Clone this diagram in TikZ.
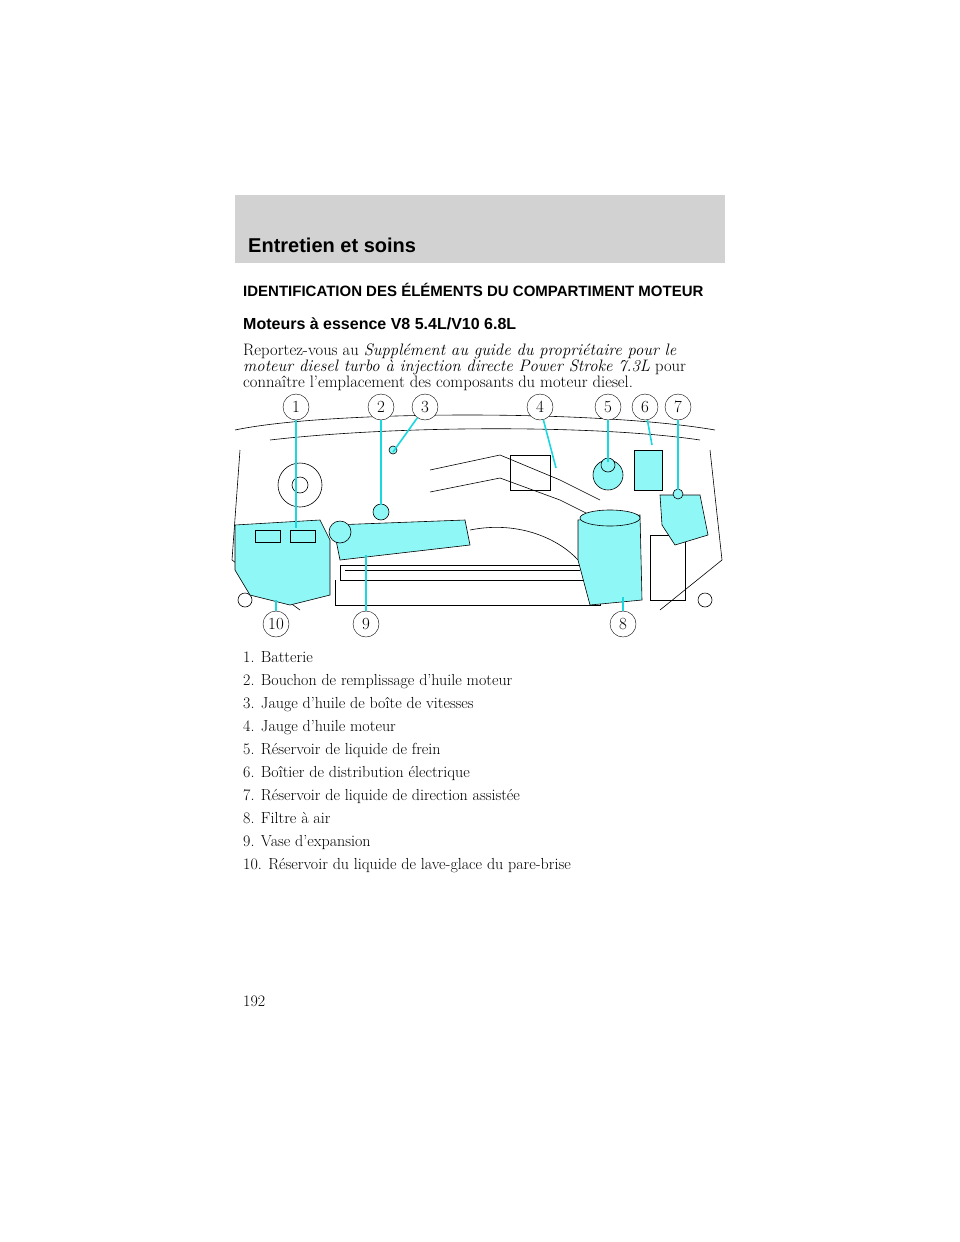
\documentclass[tikz,border=0pt]{standalone}
\usepackage{fontspec}
\setsansfont{Liberation Sans}
\usetikzlibrary{positioning}
\definecolor{partcyan}{HTML}{8FF7F5}
\definecolor{leadcyan}{HTML}{19D8E0}
\definecolor{headgray}{HTML}{D2D2D2}
\tikzset{
    txt/.style = {anchor=base west, inner sep=0pt, font=\fontsize{16}{18}\selectfont},
    callout/.style = {draw, circle, thin, minimum size=26pt, inner sep=0pt, fill=white,
        font=\fontsize{17}{18}\selectfont},
    leader/.style = {draw=leadcyan, line width=1.6pt},
    part/.style = {draw, fill=partcyan, line width=0.6pt},
    eng/.style = {draw, line width=0.6pt}
}
\begin{document}
\begin{tikzpicture}[x=1pt,y=-1pt]
    \useasboundingbox (0,0) rectangle (960,1242);
    % header
    \fill[headgray] (235,195) rectangle (725,263);
    \node[txt, font=\sffamily\bfseries\fontsize{20}{22}\selectfont] (head) at (248,252) {Entretien et soins};
    \node[txt, font=\sffamily\bfseries\fontsize{15}{17}\selectfont] (title) at (243,296) {IDENTIFICATION DES ÉLÉMENTS DU COMPARTIMENT MOTEUR};
    \node[txt, font=\sffamily\bfseries\fontsize{16}{18}\selectfont] (sub) at (243,329) {Moteurs à essence V8 5.4L/V10 6.8L};
    \node[txt, font=\fontsize{16.6}{18}\selectfont] (p1) at (243,355) {Reportez-vous au \textit{Supplément au guide du propriétaire pour le}};
    \node[txt, font=\fontsize{16.6}{18}\selectfont] (p2) at (243,371) {\textit{moteur diesel turbo à injection directe Power Stroke 7.3L} pour};
    \node[txt, font=\fontsize{16.6}{18}\selectfont] (p3) at (243,387) {connaître l’emplacement des composants du moteur diesel.};
    % engine outline
    \draw[eng] (235,430) .. controls (330,410) and (600,410) .. (715,430);
    \draw[eng] (270,440) .. controls (400,425) and (600,425) .. (700,440);
    \draw[eng] (240,450) -- (232,560);
    \draw[eng] (710,450) -- (722,560);
    \draw[eng] (232,560) -- (300,610);
    \draw[eng] (722,560) -- (660,610);
    \draw[eng] (300,485) circle (22pt);
    \draw[eng] (300,485) circle (8pt);
    \draw[eng] (430,470) -- (500,455) -- (560,480) -- (600,500);
    \draw[eng] (430,492) -- (500,478) -- (560,500) -- (590,515);
    \draw[eng] (510,455) rectangle (550,490);
    \draw[eng] (340,565) rectangle (585,580);
    \draw[eng] (345,570) -- (580,570);
    \draw[eng] (335,580) -- (335,605) -- (600,605) -- (600,580);
    \draw[eng] (470,530) .. controls (520,520) and (560,540) .. (578,560);
    \draw[eng] (650,535) rectangle (685,600);
    \draw[eng] (245,600) circle (7pt);
    \draw[eng] (705,600) circle (7pt);
    % parts
    \draw[part] (235,525) -- (320,520) -- (330,540) -- (330,595) -- (290,605) -- (250,595) -- (235,570) -- cycle;
    \draw[part] (255,530) rectangle (280,542);
    \draw[part] (290,530) rectangle (315,542);
    \draw[part] (333,525) -- (465,520) -- (470,545) -- (340,560) -- cycle;
    \draw[part] (381,512) circle (8pt);
    \draw[part] (340,532) circle (11pt);
    \draw[part] (393,450) circle (4pt);
    \draw[part] (578,520) -- (640,515) -- (642,600) -- (590,605) -- (578,560) -- cycle;
    \draw[part] (610,518) ellipse (30pt and 8pt);
    \draw[part] (608,475) circle (15pt);
    \draw[part] (608,465) circle (7pt);
    \draw[part] (634,450) rectangle (662,490);
    \draw[part] (660,495) -- (700,495) -- (708,535) -- (675,545) -- (662,525) -- cycle;
    \draw[part] (678,494) circle (5pt);
    % callouts
    \foreach \n/\x in {1/296, 2/381, 3/425, 4/540, 5/608, 6/645, 7/678}
        \node[callout] (c\n) at (\x,407) {\n};
    \draw[leader] (c1) -- (296,528);
    \draw[leader] (c2) -- (381,505);
    \draw[leader] (c3) -- (393,452);
    \draw[leader] (c4) -- (556,468);
    \draw[leader] (c5) -- (608,462);
    \draw[leader] (c6) -- (652,445);
    \draw[leader] (c7) -- (678,490);
    \node[callout] (c10) at (276,624) {10};
    \node[callout] (c9) at (366,624) {9};
    \node[callout] (c8) at (623,624) {8};
    \draw[leader] (c10) -- (276,600);
    \draw[leader] (c9) -- (366,555);
    \draw[leader] (c8) -- (623,597);
    % list
    \foreach \t [count=\i] in {1. Batterie, 2. Bouchon de remplissage d’huile moteur,
        3. Jauge d’huile de boîte de vitesses, 4. Jauge d’huile moteur,
        5. Réservoir de liquide de frein, 6. Boîtier de distribution électrique,
        7. Réservoir de liquide de direction assistée, 8. Filtre à air,
        9. Vase d’expansion, 10. Réservoir du liquide de lave-glace du pare-brise}
        \node[txt] (item\i) at (243,640+22.9*\i) {\t};
    \node[txt] (pagenum) at (243,1006) {192};
\end{tikzpicture}
\end{document}
